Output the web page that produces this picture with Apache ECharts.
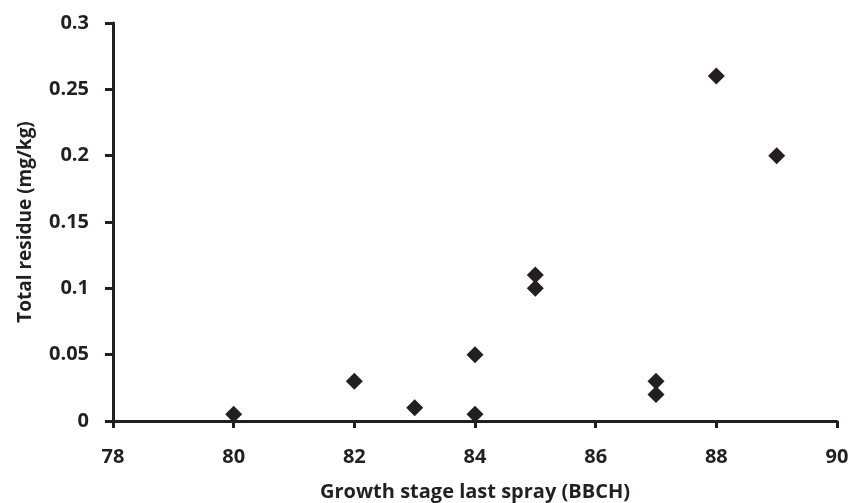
<!DOCTYPE html>
<html>
<head>
<meta charset="utf-8">
<script src="https://cdn.jsdelivr.net/npm/echarts@6/dist/echarts.min.js"></script>
<style>
  html, body { margin: 0; padding: 0; background: #fff; }
  #main { width: 851px; height: 503px; }
</style>
</head>
<body>
<div id="main"></div>
<script>
// growth stage (BBCH) of last spray vs total residue (mg/kg)
const growthStage = [80, 82, 83, 84, 84, 85, 85, 87, 87, 88, 89];
const totalResidue = [0.005, 0.03, 0.01, 0.05, 0.005, 0.11, 0.1, 0.03, 0.02, 0.26, 0.2];

const ink = "#231f20";
const font = "'Open Sans', sans-serif";

const chart = echarts.init(document.getElementById("main"));

const option = {
  animation: false,
  grid: { left: 113, right: 14, top: 23, bottom: 82, outerBoundsMode: "none" },
  xAxis: {
    type: "value",
    min: 78,
    max: 90,
    interval: 2,
    name: "Growth stage last spray (BBCH)",
    nameLocation: "middle",
    nameGap: 61,
    nameTextStyle: { color: ink, fontFamily: font, fontWeight: "bold", fontSize: 20 },
    axisLine: { show: true, lineStyle: { color: ink, width: 3 } },
    axisTick: { show: true, length: 7, lineStyle: { color: ink, width: 3 } },
    axisLabel: { color: ink, fontFamily: font, fontWeight: "bold", fontSize: 20, margin: 26 },
    splitLine: { show: false }
  },
  yAxis: {
    type: "value",
    min: 0,
    max: 0.3,
    interval: 0.05,
    name: "Total residue (mg/kg)",
    nameLocation: "middle",
    nameGap: 78,
    nameTextStyle: { color: ink, fontFamily: font, fontWeight: "bold", fontSize: 19 },
    axisLine: { show: true, lineStyle: { color: ink, width: 3 } },
    axisTick: { show: true, length: 8, lineStyle: { color: ink, width: 3 } },
    axisLabel: { color: ink, fontFamily: font, fontWeight: "bold", fontSize: 20, margin: 24 },
    splitLine: { show: false }
  },
  series: [
    {
      type: "scatter",
      symbol: "diamond",
      symbolSize: 17,
      itemStyle: { color: ink, opacity: 1 },
      data: growthStage.map((g, i) => [g, totalResidue[i]])
    }
  ]
};

chart.setOption(option);
</script>
</body>
</html>
